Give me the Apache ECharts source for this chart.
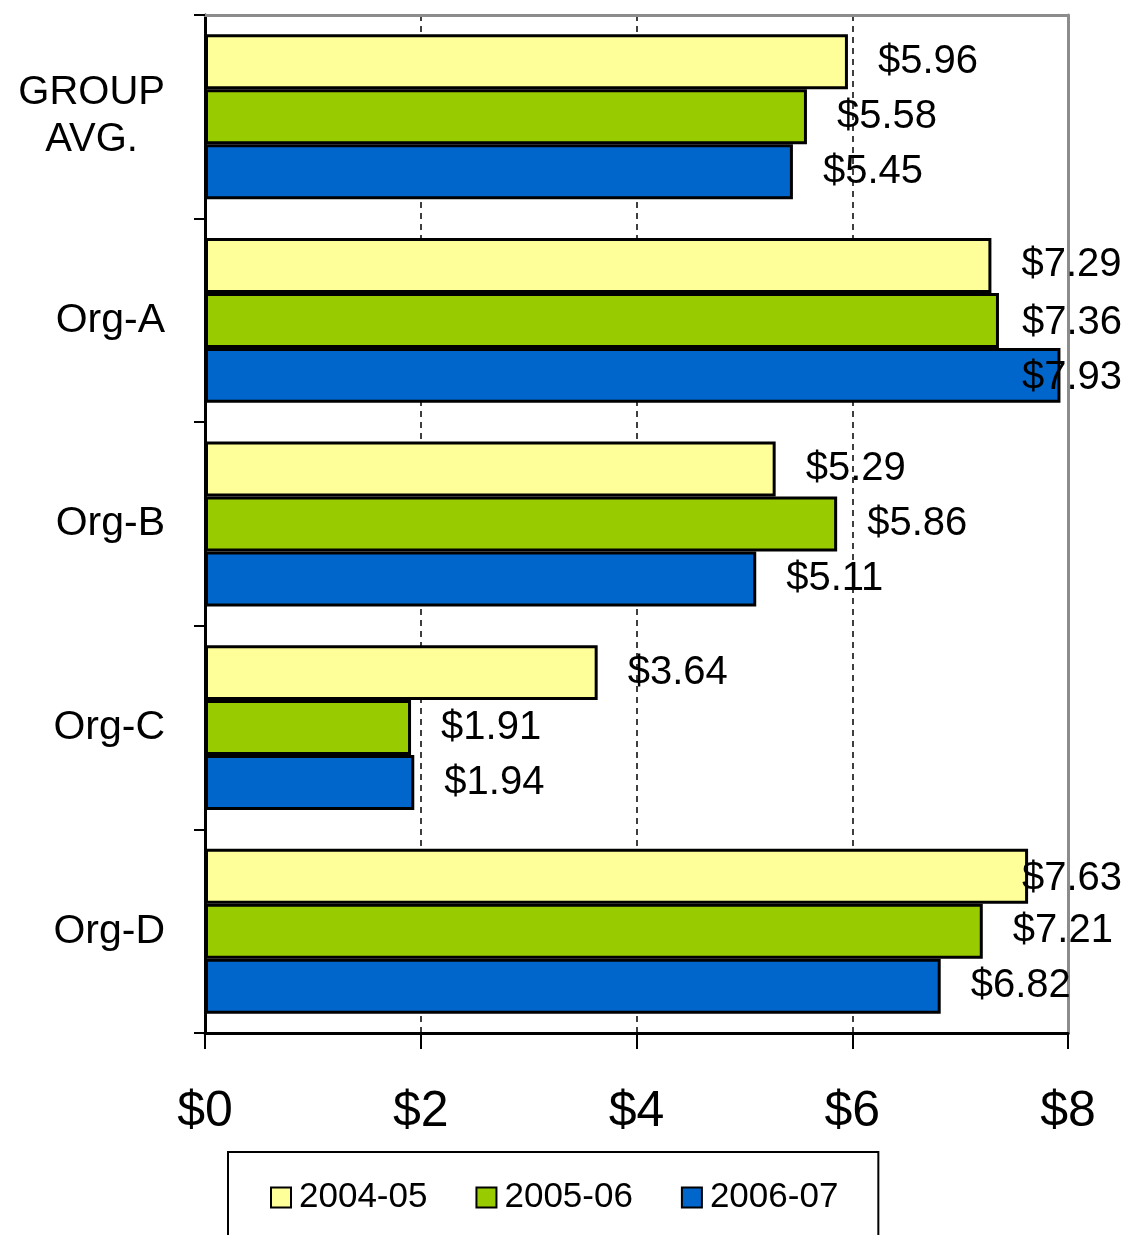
<!DOCTYPE html>
<html>
<head>
<meta charset="utf-8">
<title>Group cost comparison</title>
<script src="https://cdn.jsdelivr.net/npm/echarts@6/dist/echarts.min.js"></script>
<style>
  html, body { margin: 0; padding: 0; background: #fff; }
  #chart { width: 1125px; height: 1235px; }
</style>
</head>
<body>
<div id="chart"></div>
<script>
// categories, top to bottom
const categories = ['GROUP AVG.', 'Org-A', 'Org-B', 'Org-C', 'Org-D']
// series names
const years = ['2004-05', '2005-06', '2006-07']
// values per year
const data0405 = [5.96, 7.29, 5.29, 3.64, 7.63]
const data0506 = [5.58, 7.36, 5.86, 1.91, 7.21]
const data0607 = [5.45, 7.93, 5.11, 1.94, 6.82]
// bar colours
const colors = ['#FFFF99', '#99CC00', '#0066CC']

const font = 'Liberation Sans, Arial, sans-serif'
const myChart = echarts.init(document.getElementById('chart'))

// one bar series per year
function makeSeries(name, values) {
  return {
    name: name,
    type: 'bar',
    barGap: '0%',
    barCategoryGap: '19%',
    itemStyle: {
      borderColor: '#000',
      borderWidth: 3
    },
    label: {
      show: true,
      position: 'right',
      distance: 30,
      offset: [0, 3],
      color: '#000',
      fontFamily: font,
      fontSize: 40,
      formatter: function (p) {
        return '$' + p.value.toFixed(2)
      }
    },
    labelLayout: function (p) {
      // keep labels inside the picture like the original
      const r = p.labelRect
      if (r.x + r.width > 1122) {
        return {
          x: 1122 - r.width,
          y: r.y,
          align: 'left',
          verticalAlign: 'top'
        }
      }
    },
    data: values
  }
}

myChart.setOption({
  color: colors,
  animation: false,
  grid: {
    left: 205,
    right: 57,
    top: 15,
    bottom: 202
  },
  legend: {
    data: years,
    left: 228,
    top: 1152,
    orient: 'horizontal',
    padding: [28, 40, 80, 42],
    borderColor: '#000',
    borderWidth: 2,
    itemGap: 48,
    itemWidth: 20,
    itemHeight: 20,
    icon: 'rect',
    itemStyle: {
      borderColor: '#000',
      borderWidth: 2
    },
    textStyle: {
      color: '#000',
      fontFamily: font,
      fontSize: 35,
      padding: [0, 0, 0, 3]
    }
  },
  xAxis: [
    {
      type: 'value',
      min: 0,
      max: 8,
      interval: 2,
      axisLine: {
        show: true,
        lineStyle: { color: '#000', width: 3 }
      },
      axisTick: {
        show: true,
        length: 16,
        lineStyle: { color: '#000', width: 2 }
      },
      axisLabel: {
        margin: 54,
        color: '#000',
        fontFamily: font,
        fontSize: 50,
        formatter: function (v) {
          return '$' + v
        }
      },
      splitLine: {
        show: true,
        showMinLine: false,
        showMaxLine: false,
        lineStyle: { color: '#000', type: [6, 5], width: 1.5 }
      }
    },
    {
      // grey top border of the plot area
      type: 'value',
      position: 'top',
      min: 0,
      max: 8,
      axisLine: {
        show: true,
        onZero: false,
        lineStyle: { color: '#8c8c8c', width: 3 }
      },
      axisTick: { show: false },
      axisLabel: { show: false },
      splitLine: { show: false }
    }
  ],
  yAxis: [
    {
      type: 'category',
      inverse: true,
      data: categories,
      axisLine: {
        show: true,
        lineStyle: { color: '#000', width: 3 }
      },
      axisTick: {
        show: true,
        length: 11,
        lineStyle: { color: '#000', width: 2 }
      },
      axisLabel: {
        margin: 40,
        color: '#000',
        fontFamily: font,
        fontSize: 41,
        lineHeight: 47,
        formatter: function (v) {
          if (v === 'GROUP AVG.') {
            return '{c|GROUP}\n{c|AVG.}'
          }
          return v
        },
        rich: {
          c: {
            align: 'center',
            color: '#000',
            fontFamily: font,
            fontSize: 40,
            lineHeight: 47
          }
        }
      }
    },
    {
      // grey right border of the plot area
      type: 'category',
      position: 'right',
      inverse: true,
      data: categories,
      axisLine: {
        show: true,
        onZero: false,
        lineStyle: { color: '#8c8c8c', width: 3 }
      },
      axisTick: { show: false },
      axisLabel: { show: false }
    }
  ],
  series: [
    makeSeries(years[0], data0405),
    makeSeries(years[1], data0506),
    makeSeries(years[2], data0607)
  ]
})

// 自适应大小
window.onresize = function () {
  myChart.resize()
}
</script>
</body>
</html>
